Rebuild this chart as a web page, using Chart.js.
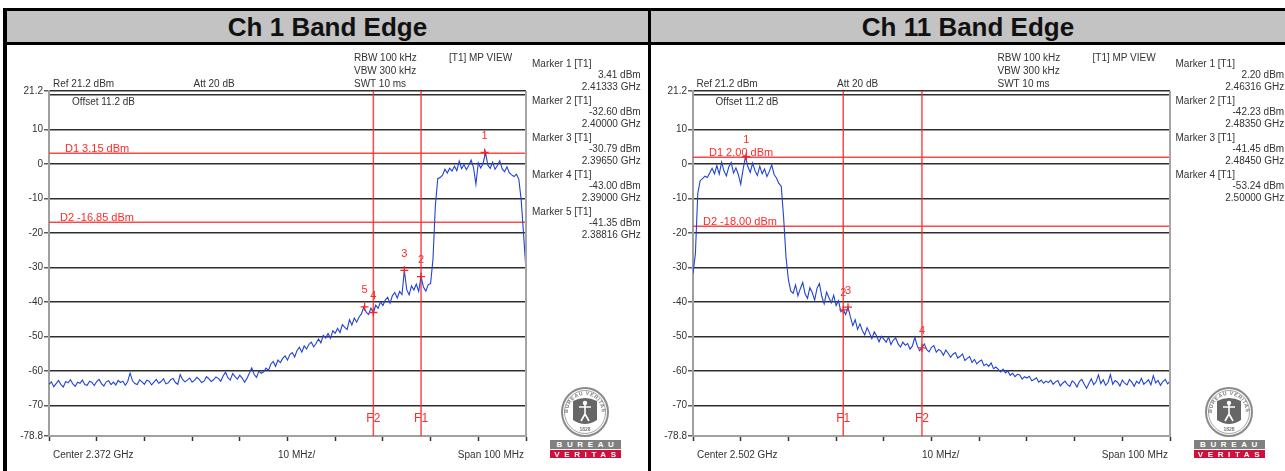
<!DOCTYPE html>
<html>
<head>
<meta charset="utf-8">
<script src="https://cdn.jsdelivr.net/npm/chart.js@4.4.0/dist/chart.umd.min.js"></script>
<style>
  html, body { margin: 0; padding: 0; background: #fff; }
  body { width: 1285px; height: 471px; position: relative; overflow: hidden;
         font-family: "Liberation Sans", Arial, sans-serif; }
  .blk { position: absolute; background: #000; }
  .title { position: absolute; top: 11px; height: 31px; background: #c3c3c3; color: #111;
           font: bold 26px "Liberation Sans", Arial, sans-serif; text-align: center; line-height: 32px; }
  .t { position: absolute; font-size: 10px; line-height: 12px; color: #333; white-space: nowrap; }
  .r { text-align: right; width: 110px; }
  canvas { position: absolute; }
  .emb { position: absolute; width: 50px; height: 50px; }
  .bar { position: absolute; width: 71px; height: 8.5px; color: #fff; font: bold 8px "Liberation Sans", Arial; line-height: 9px;
         text-align: center; letter-spacing: 4.6px; text-indent: 4px; }
</style>
</head>
<body>
<!-- frame -->
<div class="blk" style="left:3px;top:8px;width:1282px;height:3px"></div>
<div class="blk" style="left:3px;top:42px;width:1282px;height:3px"></div>
<div class="blk" style="left:3px;top:8px;width:4px;height:463px"></div>
<div class="blk" style="left:648px;top:8px;width:3px;height:463px"></div>
<div class="title" style="left:7px;width:641px">Ch 1 Band Edge</div>
<div class="title" style="left:651px;width:634px">Ch 11 Band Edge</div>

<canvas id="c1" width="648" height="424" style="left:0;top:47px"></canvas>
<canvas id="c11" width="634" height="424" style="left:651px;top:47px"></canvas>

<div id="texts"></div>

<script>
// ---------------- DATA ----------------
const yTickValues = [21.2, 20, 10, 0, -10, -20, -30, -40, -50, -60, -70, -78.8];
const yTickLabels = ['21.2', '', '10', '0', '-10', '-20', '-30', '-40', '-50', '-60', '-70', '-78.8'];

// Ch 1 : center 2.372 GHz, span 100 MHz (values in MHz)
const ch1Start = 2322;
const ch1Step = 0.5;
const ch1XTicks = [2322, 2332, 2342, 2352, 2362, 2372, 2382, 2392, 2402, 2412, 2422];
const ch1Trace = [
  -63.8, -63.1, -64.5, -63.6, -62.7, -63.9, -64.6, -63.0, -63.4, -62.5,
  -63.7, -64.4, -63.2, -63.5, -62.6, -63.9, -64.1, -62.9, -63.3, -64.2,
  -63.0, -62.4, -63.6, -64.3, -63.1, -62.8, -63.9, -63.2, -64.0, -62.7,
  -63.3, -62.9, -64.1, -63.0, -60.6, -62.8, -63.6, -63.9, -62.5, -63.1,
  -63.8, -62.6, -62.9, -64.0, -63.2, -62.4, -63.5, -63.0, -62.2, -63.7,
  -63.4, -62.5, -62.1, -63.3, -63.8, -61.0, -62.4, -63.1, -62.6, -62.0,
  -63.2, -62.7, -61.8, -62.4, -63.3, -62.9, -61.6, -62.2, -63.0, -62.5,
  -61.7, -62.1, -62.9, -61.4, -60.3, -61.9, -62.6, -60.7, -61.6, -62.3,
  -61.2, -62.0, -63.2, -62.1, -60.6, -59.1, -60.9, -61.8, -60.0, -60.6,
  -60.2, -59.1, -59.8, -58.0, -57.2, -58.6, -56.8, -57.5, -56.3, -55.6,
  -56.8, -55.2, -54.6, -55.9, -54.0, -53.1, -54.5, -52.7, -53.6, -52.2,
  -51.6, -53.0, -51.9, -50.7, -51.8, -49.6, -50.4, -49.1, -50.5, -48.3,
  -49.0, -47.6, -48.8, -46.5, -47.3, -47.9, -45.1, -46.6, -44.6, -45.8,
  -44.3, -43.4, -41.4, -42.9, -43.6, -41.7, -43.0, -40.9, -41.8, -39.9,
  -41.0, -39.4, -38.6, -40.3, -38.1, -37.2, -38.8, -36.9, -37.8, -30.8,
  -36.4, -37.9, -35.3, -36.5, -34.8, -36.9, -32.6, -35.6, -36.8, -34.9,
  -34.6, -27.5, -12.0, -4.2, -3.9, -3.2, -1.5, -2.6, -1.2, -2.0,
  -0.6, -1.9, 0.9, -1.3, -0.2, -1.6, -0.4, 1.2, -1.0, -5.8,
  0.4, -1.1, 0.2, 3.4, -0.3, -1.2, 0.6, -1.5, -0.4, 1.0,
  -1.3, -2.2, -0.8, -2.5, -3.1, -3.6, -2.9, -4.4, -10.5, -20.5, -30.8
];
const ch1MarkerFreqs = [2413.33, 2400.00, 2396.50, 2390.00, 2388.16];
const ch1MarkerLevels = [3.41, -32.60, -30.79, -43.00, -41.35];
const ch1D1 = 3.15, ch1D2 = -16.85;
const ch1F1 = 2400.0, ch1F2 = 2390.0;

// Ch 11 : center 2.502 GHz, span 100 MHz
const ch11Start = 2452;
const ch11Step = 0.5;
const ch11XTicks = [2452, 2462, 2472, 2482, 2492, 2502, 2512, 2522, 2532, 2542, 2552];
const ch11Trace = [
  -31.7, -26.0, -8.5, -4.8, -4.2, -3.5, -3.9, -2.6, -1.2, -2.8,
  -0.4, -2.9, 0.6, -2.0, -3.4, -0.8, 0.5, -2.6, -1.1, -3.0,
  -5.8, -1.5, 2.2, -0.7, -2.4, 0.3, -1.9, -3.3, -0.6, -2.8,
  -1.4, -3.6, -2.1, -0.2, -3.0, -4.0, -5.6, -6.4, -15.5, -27.0,
  -33.5, -36.8, -37.4, -35.0, -38.2, -36.1, -34.3, -37.6, -38.9, -35.8,
  -37.2, -39.4, -36.0, -34.6, -38.3, -40.5, -37.1, -38.7, -40.2, -38.0,
  -41.0, -39.6, -42.8, -42.2, -43.6, -41.5, -44.3, -46.8, -45.1, -47.9,
  -46.3, -48.2, -49.5, -47.4, -48.9, -50.6, -48.6, -49.8, -51.5, -49.9,
  -50.7, -51.6, -50.1, -52.3, -51.0, -50.4, -52.1, -53.0, -51.6, -52.5,
  -52.0, -53.6, -52.7, -50.2, -52.6, -54.1, -53.2, -52.1, -53.8, -54.4,
  -53.1, -52.6, -54.5, -53.7, -54.2, -55.4, -53.9, -54.8, -56.0, -55.1,
  -54.6, -56.2, -55.7, -55.0, -56.9, -56.3, -55.8, -57.5, -56.6, -57.9,
  -57.2, -56.8, -58.4, -57.9, -58.6, -57.6, -59.3, -58.8, -59.5, -60.2,
  -59.4, -60.5, -60.0, -61.2, -60.6, -61.6, -60.9, -61.1, -62.3, -61.6,
  -62.0, -61.5, -62.8, -62.4, -61.9, -63.2, -62.6, -63.5, -62.9, -63.3,
  -62.6, -63.8, -63.1, -62.7, -64.3, -63.5, -62.9, -63.9, -64.4, -62.8,
  -63.4, -64.6, -63.0, -62.4, -63.7, -65.0, -63.6, -62.2, -63.9, -63.1,
  -61.1, -63.6, -62.5, -64.1, -63.3, -61.0, -63.8, -62.7, -63.2, -64.3,
  -62.6, -63.5, -64.0, -62.4, -63.2, -64.4, -62.9, -63.6, -62.1, -63.8,
  -63.2, -62.5, -64.0, -61.3, -63.4, -62.7, -64.1, -63.0, -62.4, -63.7, -62.9
];
const ch11MarkerFreqs = [2463.16, 2483.50, 2484.50, 2500.00];
const ch11MarkerLevels = [2.20, -42.23, -41.45, -53.24];
const ch11D1 = 2.00, ch11D2 = -18.00;
const ch11F1 = 2483.5, ch11F2 = 2500.0;

// ---------------- DRAWING ----------------
const FONT = '"Liberation Sans", Arial, sans-serif';
Chart.defaults.font.family = FONT;
const RED = 'rgba(255,40,40,0.85)';
const YMIN = -78.8, YMAX = 21.2;

const overlay = {
  id: 'overlay',
  afterDatasetsDraw(chart, args, o) {
    const { ctx, chartArea: ca, scales: { x, y } } = chart;
    ctx.save();
    ctx.strokeStyle = '#a5a5a5'; ctx.lineWidth = 2;
    ctx.beginPath(); ctx.moveTo(ca.right, ca.top); ctx.lineTo(ca.right, ca.bottom + 1); ctx.stroke();
    ctx.fillStyle = '#ff2a2a';
    ctx.font = '11px ' + FONT;
    ctx.textAlign = 'left'; ctx.textBaseline = 'alphabetic';
    ctx.fillText('D1 ' + o.d1.toFixed(2) + ' dBm', ca.left + o.d1dx, y.getPixelForValue(o.d1) - 1.5);
    ctx.fillText('D2 ' + o.d2.toFixed(2) + ' dBm', ca.left + o.d2dx, y.getPixelForValue(o.d2) - 1.5);
    ctx.font = '12px ' + FONT; ctx.textAlign = 'center';
    ctx.fillText('F1', x.getPixelForValue(o.f1), ca.bottom - 14);
    ctx.fillText('F2', x.getPixelForValue(o.f2), ca.bottom - 14);
    ctx.font = '11px ' + FONT;
    o.mf.forEach((f, i) => {
      ctx.fillText(String(i + 1), x.getPixelForValue(f), y.getPixelForValue(o.ml[i]) - 13.5);
    });
    ctx.fillStyle = '#333'; ctx.font = '10px ' + FONT;
    ctx.textAlign = 'left';
    ctx.fillText(o.centerText, ca.left + 4, ca.bottom + 22);
    ctx.fillText('10 MHz/', x.getPixelForValue(o.center) - 9.5, ca.bottom + 22);
    ctx.textAlign = 'right';
    ctx.fillText('Span 100 MHz', ca.right - 2, ca.bottom + 22);
    ctx.restore();
  }
};

function makeChart(id, start, step, trace, xTicks, mf, ml, d1, d2, f1, f2, yAxisW, padRight, centerText, d1dx, d2dx) {
  const xmax = start + step * (trace.length - 1);
  const traceData = trace.map((v, i) => ({ x: start + i * step, y: v }));
  const hLine = (lv) => [{ x: start, y: lv }, { x: xmax, y: lv }];
  const vLine = (f) => [{ x: f, y: YMIN }, { x: f, y: YMAX }];
  const lineDs = (data) => ({ type: 'line', data, borderColor: RED, borderWidth: 1.5, pointRadius: 0, order: 3 });
  return new Chart(document.getElementById(id), {
    type: 'line',
    data: {
      datasets: [
        { data: mf.map((f, i) => ({ x: f, y: ml[i] })), showLine: false, pointStyle: 'cross',
          pointRadius: 4, pointBorderColor: '#ff2020', pointBorderWidth: 1.3, borderColor: '#ff2020', order: 0 },
        { data: traceData, borderColor: '#2143d6', borderWidth: 1.1, pointRadius: 0, tension: 0, order: 1 },
        lineDs(hLine(d1)), lineDs(hLine(d2)), lineDs(vLine(f1)), lineDs(vLine(f2))
      ]
    },
    options: {
      responsive: false, animation: false, devicePixelRatio: 1,
      layout: { padding: { top: 44, right: padRight, bottom: 0, left: 0 } },
      plugins: {
        legend: { display: false }, tooltip: { enabled: false },
        overlay: { d1, d2, f1, f2, mf, ml, centerText, center: start + 50, d1dx, d2dx }
      },
      scales: {
        x: {
          type: 'linear', min: start, max: xmax,
          afterBuildTicks: s => { s.ticks = xTicks.map(v => ({ value: v })); },
          afterFit: s => { s.height = 35; },
          ticks: { display: false },
          grid: { drawOnChartArea: false, drawTicks: true, tickLength: 5, tickColor: '#333', tickWidth: 1.5 },
          border: { display: true, color: '#a0a0a0', width: 2 }
        },
        y: {
          type: 'linear', min: YMIN, max: YMAX,
          afterBuildTicks: s => { s.ticks = yTickValues.map(v => ({ value: v })); },
          afterFit: s => { s.width = yAxisW; },
          ticks: { autoSkip: false, padding: 1, color: '#333', font: { size: 10, family: FONT },
                   callback: (v, i) => yTickLabels[i] },
          grid: {
            lineWidth: 1.6,
            color: c => (c.tick && c.tick.value === YMIN) ? '#a0a0a0' : '#2e2e2e',
            tickLength: 5, tickWidth: 1.2,
            tickColor: c => (c.tick && yTickLabels[yTickValues.indexOf(c.tick.value)] === '') ? 'rgba(0,0,0,0)' : '#333'
          },
          border: { display: true, color: '#a0a0a0', width: 2 }
        }
      }
    },
    plugins: [overlay]
  });
}

makeChart('c1', ch1Start, ch1Step, ch1Trace, ch1XTicks, ch1MarkerFreqs, ch1MarkerLevels,
  ch1D1, ch1D2, ch1F1, ch1F2, 49, 122, 'Center 2.372 GHz', 16, 11);
makeChart('c11', ch11Start, ch11Step, ch11Trace, ch11XTicks, ch11MarkerFreqs, ch11MarkerLevels,
  ch11D1, ch11D2, ch11F1, ch11F2, 42, 115, 'Center 2.502 GHz', 16, 10);

// ---------------- TEXT BLOCKS ----------------
const box = document.getElementById('texts');
function addText(txt, left, top, cls) {
  const d = document.createElement('div');
  d.className = 't' + (cls ? ' ' + cls : '');
  d.textContent = txt;
  d.style.left = left + 'px'; d.style.top = top + 'px';
  box.appendChild(d);
}
const emblemSvg =
  '<svg width="50" height="50" viewBox="0 0 50 50" xmlns="http://www.w3.org/2000/svg">' +
  '<defs><path id="arcP" d="M8,26 A17,18 0 0 1 42,26"/></defs>' +
  '<ellipse cx="25" cy="25" rx="23" ry="24" fill="#fff" stroke="#8a8a8a" stroke-width="2"/>' +
  '<ellipse cx="25" cy="25" rx="20.5" ry="21.5" fill="none" stroke="#a8a8a8" stroke-width="1"/>' +
  '<text font-family="Liberation Sans" font-size="5.2" font-weight="bold" fill="#7a7a7a" letter-spacing="0.6">' +
  '<textPath href="#arcP">BUREAU VERITAS</textPath></text>' +
  '<path d="M13,14 Q25,8 37,14 L37,33 Q25,41 13,33 Z" fill="#666"/>' +
  '<circle cx="25" cy="16" r="2.2" fill="#fff"/>' +
  '<path d="M25,18 L25,27 M19,20 L31,20 M25,27 L21,34 M25,27 L29,34" stroke="#fff" stroke-width="1.6" fill="none"/>' +
  '<text x="25" y="44" text-anchor="middle" font-family="Liberation Sans" font-size="5" font-weight="bold" fill="#777">1828</text>' +
  '</svg>';
function panelTexts(dx, mf, ml) {
  addText('RBW 100 kHz', 354 + dx, 51.5);
  addText('VBW 300 kHz', 354 + dx, 64.8);
  addText('SWT 10 ms', 354 + dx, 78);
  addText('[T1] MP VIEW', 449 + dx, 51.5);
  addText('Ref 21.2 dBm', 53 + dx, 78);
  addText('Att  20 dB', 193.5 + dx, 78);
  addText('Offset 11.2 dB', 72 + dx, 96);
  mf.forEach((f, i) => {
    const top = 57.5 + i * 37.05;
    addText('Marker ' + (i + 1) + ' [T1]', 532 + dx, top);
    addText(ml[i].toFixed(2) + ' dBm', 640.7 - 110 + dx, top + 11.67, 'r');
    addText((f / 1000).toFixed(5) + ' GHz', 640.7 - 110 + dx, top + 23.33, 'r');
  });
  const e = document.createElement('div');
  e.className = 'emb'; e.style.left = (560 + dx) + 'px'; e.style.top = '387px';
  e.innerHTML = emblemSvg;
  box.appendChild(e);
  const b1 = document.createElement('div');
  b1.className = 'bar'; b1.textContent = 'BUREAU';
  b1.style.left = (550 + dx) + 'px'; b1.style.top = '440px'; b1.style.background = '#808080';
  box.appendChild(b1);
  const b2 = document.createElement('div');
  b2.className = 'bar'; b2.textContent = 'VERITAS';
  b2.style.left = (550 + dx) + 'px'; b2.style.top = '449.5px'; b2.style.background = '#d0103c';
  box.appendChild(b2);
}
panelTexts(0, ch1MarkerFreqs, ch1MarkerLevels);
panelTexts(643.5, ch11MarkerFreqs, ch11MarkerLevels);
</script>
</body>
</html>
